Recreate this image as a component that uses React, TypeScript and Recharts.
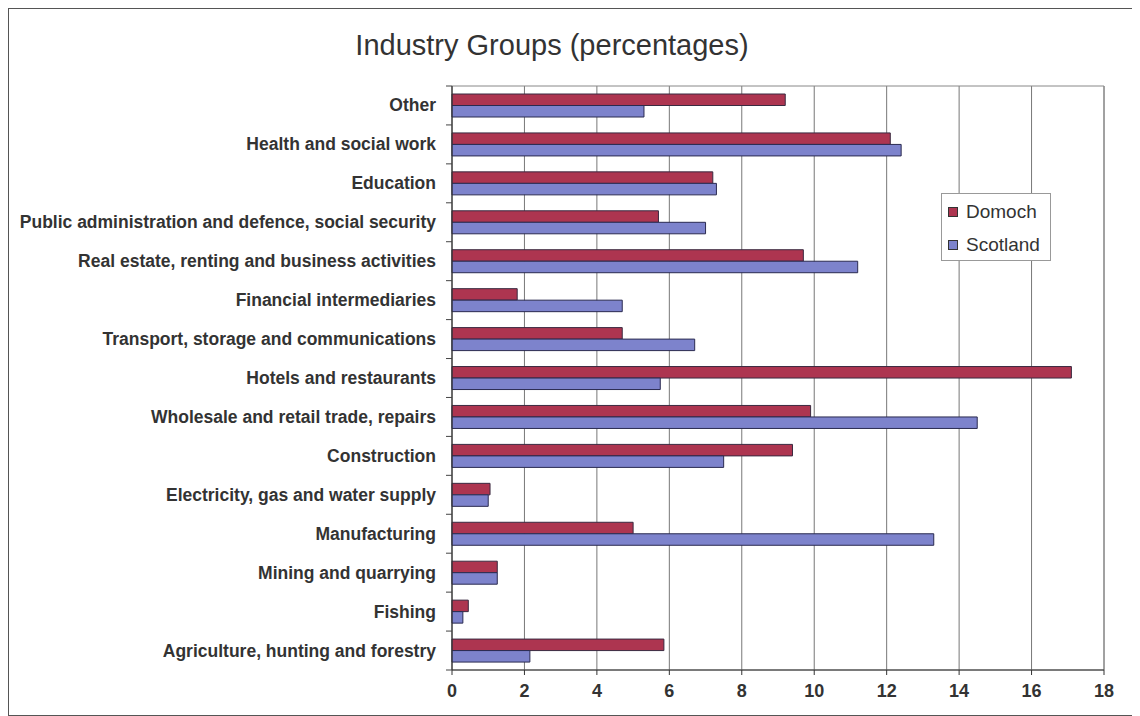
import React from 'react';
import { BarChart, Bar, XAxis, YAxis, CartesianGrid, Legend, ReferenceArea } from 'recharts';

const categories = [
  'Other',
  'Health and social work',
  'Education',
  'Public administration and defence, social security',
  'Real estate, renting and business activities',
  'Financial intermediaries',
  'Transport, storage and communications',
  'Hotels and restaurants',
  'Wholesale and retail trade, repairs',
  'Construction',
  'Electricity, gas and water supply',
  'Manufacturing',
  'Mining and quarrying',
  'Fishing',
  'Agriculture, hunting and forestry',
];

const domoch = [9.2, 12.1, 7.2, 5.7, 9.7, 1.8, 4.7, 17.1, 9.9, 9.4, 1.05, 5.0, 1.25, 0.45, 5.85];
const scotland = [5.3, 12.4, 7.3, 7.0, 11.2, 4.7, 6.7, 5.75, 14.5, 7.5, 1.0, 13.3, 1.25, 0.3, 2.15];

const xTicks = [0, 2, 4, 6, 8, 10, 12, 14, 16, 18];

const data = categories.map((name, i) => ({ name, Domoch: domoch[i], Scotland: scotland[i] }));

const RED = '#ad3550';
const BLUE = '#7d83cc';
const FONT = 'Arial, "Liberation Sans", sans-serif';

const CHART_W = 1130;
const CHART_H = 706;
const TOP = 77;
const BOTTOM_AXIS = 30;
const BOTTOM_MARGIN = 15;
const BAND = (CHART_H - TOP - BOTTOM_AXIS - BOTTOM_MARGIN) / categories.length;

const CategoryTick = (props: any) => {
  const { x, y, payload, index } = props;
  return (
    <g>
      {index === 0 && <line x1={x + 2} x2={x + 8} y1={y - BAND / 2} y2={y - BAND / 2} stroke="#444" />}
      <line x1={x + 2} x2={x + 8} y1={y + BAND / 2} y2={y + BAND / 2} stroke="#444" />
      <text x={x - 8} y={y} dy={6} textAnchor="end" fontFamily={FONT} fontSize={17.5} fontWeight="bold" fill="#333">
        {payload.value}
      </text>
    </g>
  );
};

const LegendBox = () => (
  <div style={{ width: 110, height: 68, border: '1px solid #999', background: '#fff', fontFamily: FONT, fontSize: 19, color: '#333', boxSizing: 'border-box', padding: '1px 0 0 6px' }}>
    {[['Domoch', RED], ['Scotland', BLUE]].map(([label, color]) => (
      <div key={label} style={{ display: 'flex', alignItems: 'center', height: 33 }}>
        <span style={{ width: 8, height: 8, background: color, border: '1px solid #333', marginRight: 8 }} />
        {label}
      </div>
    ))}
  </div>
);

export default function App() {
  return (
    <div style={{ position: 'relative', width: CHART_W, height: CHART_H, border: '1px solid #555', background: '#fff' }}>
      <div style={{ position: 'absolute', top: 20, left: 0, width: 1086, textAlign: 'center', fontFamily: FONT, fontSize: 29, color: '#333' }}>
        Industry Groups (percentages)
      </div>
      <BarChart
        width={CHART_W}
        height={CHART_H}
        data={data}
        layout="vertical"
        margin={{ top: TOP, right: 35, bottom: BOTTOM_MARGIN, left: 0 }}
        barGap={0}
        barSize={11.5}
      >
        <CartesianGrid horizontal={false} stroke="#777" />
        <ReferenceArea x1={0} x2={18} fill="none" stroke="#888" strokeOpacity={1} ifOverflow="visible" />
        <XAxis
          type="number"
          domain={[0, 18]}
          ticks={xTicks}
          height={BOTTOM_AXIS}
          stroke="#333"
          tickSize={5}
          tick={{ fontFamily: FONT, fontSize: 18, fontWeight: 'bold', fill: '#333', dy: 7 }}
        />
        <YAxis
          type="category"
          dataKey="name"
          width={443}
          stroke="#333"
          tickLine={false}
          interval={0}
          tick={<CategoryTick />}
        />
        <Legend
          layout="vertical"
          align="center"
          verticalAlign="middle"
          content={<LegendBox />}
          wrapperStyle={{ position: 'absolute', top: 184, left: 932, width: 110 }}
        />
        <Bar dataKey="Domoch" fill={RED} stroke="#3a2a40" strokeWidth={1} isAnimationActive={false} />
        <Bar dataKey="Scotland" fill={BLUE} stroke="#2a2a50" strokeWidth={1} isAnimationActive={false} />
      </BarChart>
    </div>
  );
}
